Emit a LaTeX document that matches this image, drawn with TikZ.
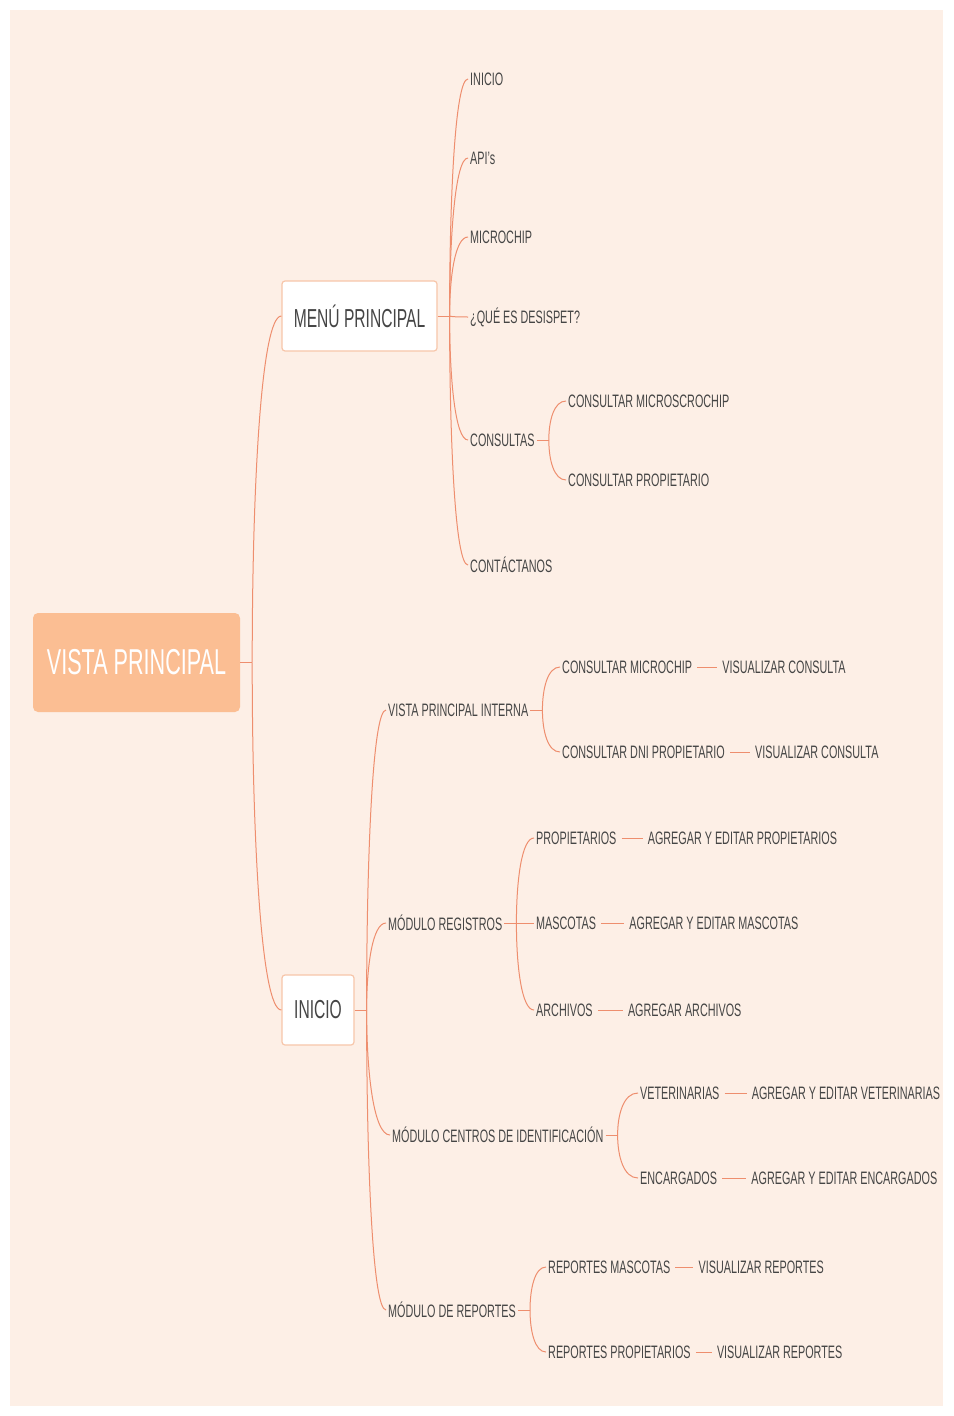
\documentclass[tikz,border=0pt]{standalone}
\usepackage{fontspec}
\setmainfont{Liberation Sans}[FakeStretch=0.6]
\usetikzlibrary{positioning,calc}
\definecolor{bgpeach}{HTML}{FDEFE6}
\definecolor{rootfill}{HTML}{FBBE93}
\definecolor{linkcol}{HTML}{EE8E6E}
\definecolor{boxline}{HTML}{F7C6AA}
\definecolor{txtgray}{HTML}{454545}
\tikzset{
  rootbox/.style={fill=rootfill, rounded corners=5pt, minimum width=207pt, minimum height=99pt,
    text=white, font=\fontsize{36}{40}\selectfont},
  mainbox/.style={draw=boxline, line width=1.2pt, fill=white, rounded corners=3pt,
    minimum height=70pt, text=txtgray, font=\fontsize{26}{30}\selectfont},
  leaf/.style={anchor=west, inner sep=2pt, text=txtgray, font=\fontsize{18}{20}\selectfont},
  link/.style={draw=linkcol, line width=1pt},
  pairlink/.style={link, shorten <=3pt, shorten >=3pt},
}
\newcommand{\branch}[3]{%
  \coordinate (#2) at ($(#1.east)+(12,0)$);
  \draw[link] (#1.east) -- (#2);
  \foreach \c in {#3}
    \draw[link] (#2) .. controls ($(#2)!0.5!(#2 |- \c.west)$)
      and ($(#2 |- \c.west)!0.3!(\c.west)$) .. (\c.west);
}
\begin{document}
\begin{tikzpicture}[x=1pt,y=-1pt]
  \fill[white] (0,0) rectangle (953,1416);
  \fill[bgpeach] (10,10) rectangle (943,1406);

  \node[rootbox] (root) at (136.5,662.5) {VISTA PRINCIPAL};
  \node[mainbox, minimum width=155pt] (menu) at (359.5,316) {MENÚ PRINCIPAL};
  \node[mainbox, minimum width=72pt] (inicio) at (318,1010) {INICIO};

  \node[leaf] (m1) at (468,79) {INICIO};
  \node[leaf] (m2) at (468,158) {API's};
  \node[leaf] (m3) at (468,237) {MICROCHIP};
  \node[leaf] (m4) at (468,317) {¿QUÉ ES DESISPET?};
  \node[leaf] (m5) at (468,440) {CONSULTAS};
  \node[leaf] (m6) at (468,565) {CONTÁCTANOS};
  \node[leaf] (c1) at (566,401) {CONSULTAR MICROSCROCHIP};
  \node[leaf] (c2) at (566,480) {CONSULTAR PROPIETARIO};

  \node[leaf] (i1) at (386,710) {VISTA PRINCIPAL INTERNA};
  \node[leaf] (i2) at (386,923) {MÓDULO REGISTROS};
  \node[leaf] (i3) at (390,1135) {MÓDULO CENTROS DE IDENTIFICACIÓN};
  \node[leaf] (i4) at (386,1310) {MÓDULO DE REPORTES};

  \node[leaf] (v1) at (560,667) {CONSULTAR MICROCHIP};
  \node[leaf] (v2) at (560,752) {CONSULTAR DNI PROPIETARIO};
  \node[leaf, right=26pt of v1] (v1b) {VISUALIZAR CONSULTA};
  \node[leaf, right=26pt of v2] (v2b) {VISUALIZAR CONSULTA};

  \node[leaf] (r1) at (534,838) {PROPIETARIOS};
  \node[leaf] (r2) at (534,923) {MASCOTAS};
  \node[leaf] (r3) at (534,1010) {ARCHIVOS};
  \node[leaf, right=27pt of r1] (r1b) {AGREGAR Y EDITAR PROPIETARIOS};
  \node[leaf, right=29pt of r2] (r2b) {AGREGAR Y EDITAR MASCOTAS};
  \node[leaf, right=31pt of r3] (r3b) {AGREGAR ARCHIVOS};

  \node[leaf] (e1) at (638,1093) {VETERINARIAS};
  \node[leaf] (e2) at (638,1178) {ENCARGADOS};
  \node[leaf, right=28pt of e1] (e1b) {AGREGAR Y EDITAR VETERINARIAS};
  \node[leaf, right=30pt of e2] (e2b) {AGREGAR Y EDITAR ENCARGADOS};

  \node[leaf] (p1) at (546,1267) {REPORTES MASCOTAS};
  \node[leaf] (p2) at (546,1352) {REPORTES PROPIETARIOS};
  \node[leaf, right=24pt of p1] (p1b) {VISUALIZAR REPORTES};
  \node[leaf, right=22pt of p2] (p2b) {VISUALIZAR REPORTES};

  \branch{root}{rootJ}{menu,inicio}
  \branch{menu}{menuJ}{m1,m2,m3,m4,m5,m6}
  \branch{m5}{consJ}{c1,c2}
  \branch{inicio}{inicioJ}{i1,i2,i3,i4}
  \branch{i1}{vistaJ}{v1,v2}
  \branch{i2}{regJ}{r1,r2,r3}
  \branch{i3}{centJ}{e1,e2}
  \branch{i4}{repJ}{p1,p2}

  \foreach \a/\b in {v1/v1b,v2/v2b,r1/r1b,r2/r2b,r3/r3b,e1/e1b,e2/e2b,p1/p1b,p2/p2b}
    \draw[pairlink] (\a) -- (\b);
\end{tikzpicture}
\end{document}
